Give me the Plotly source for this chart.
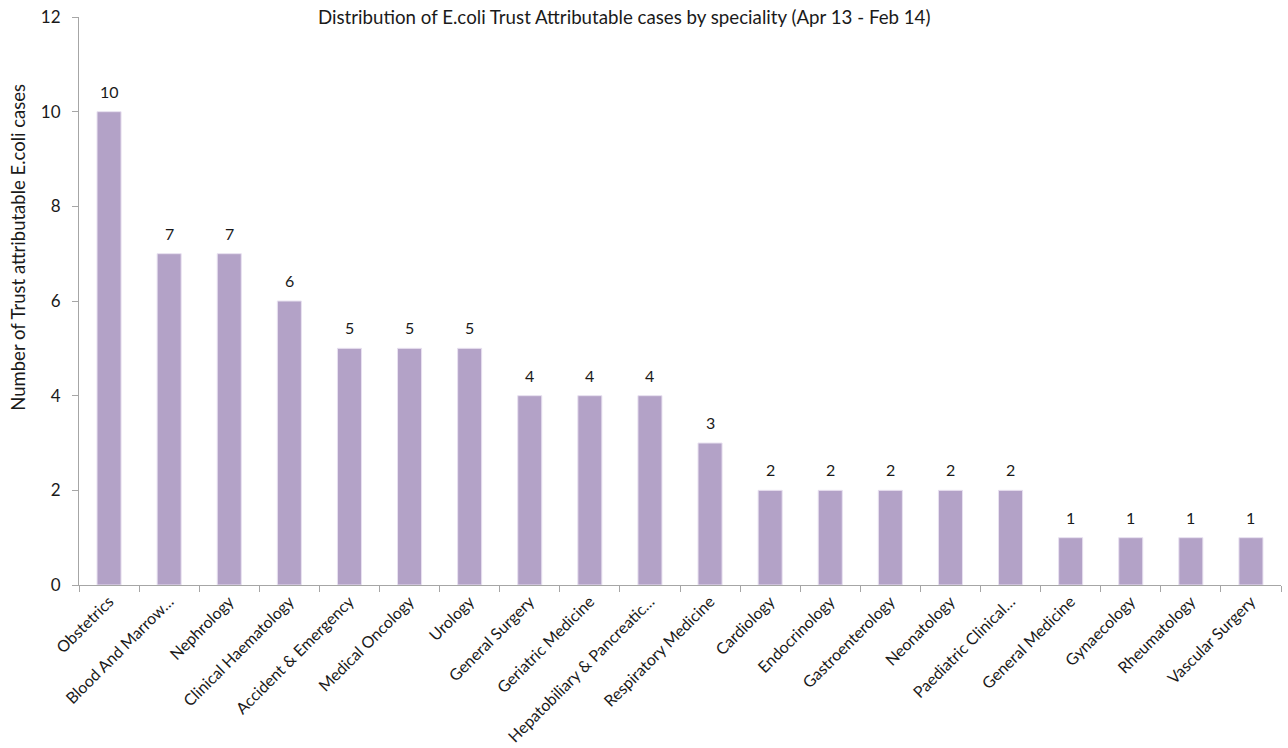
import plotly.graph_objects as go

specialities = [
    "Obstetrics", "Blood And Marrow…", "Nephrology", "Clinical Haematology",
    "Accident & Emergency", "Medical Oncology", "Urology", "General Surgery",
    "Geriatric Medicine", "Hepatobiliary & Pancreatic…", "Respiratory Medicine",
    "Cardiology", "Endocrinology", "Gastroenterology", "Neonatology",
    "Paediatric Clinical…", "General Medicine", "Gynaecology", "Rheumatology",
    "Vascular Surgery",
]
cases = [10, 7, 7, 6, 5, 5, 5, 4, 4, 4, 3, 2, 2, 2, 2, 2, 1, 1, 1, 1]
y_ticks = [0, 2, 4, 6, 8, 10, 12]

FONT = "Lato, Open Sans, sans-serif"
TEXT = "#1a1a1a"
AXIS = "#a6a6a6"

fig = go.Figure(
    go.Bar(
        x=specialities,
        y=cases,
        width=0.4,
        marker=dict(color="#b3a2c7", line=dict(color="#e8e1f0", width=1)),
        hoverinfo="x+y",
    )
)

# value labels above each bar
value_labels = [
    dict(
        x=name, y=v, xref="x", yref="y", text=str(v), showarrow=False,
        yanchor="bottom", yshift=9,
        font=dict(family=FONT, size=16, color=TEXT),
    )
    for name, v in zip(specialities, cases)
]

fig.update_layout(
    width=1288,
    height=748,
    margin=dict(l=79, r=7, t=17, b=163, autoexpand=False),
    paper_bgcolor="white",
    plot_bgcolor="white",
    showlegend=False,
    font=dict(family=FONT, size=15, color=TEXT),
    annotations=value_labels + [
        dict(
            text="Distribution of E.coli Trust Attributable cases by speciality (Apr 13 - Feb 14)",
            xref="paper", yref="paper", x=0.453, y=1.0, yanchor="middle",
            xanchor="center", showarrow=False,
            font=dict(family=FONT, size=18.7, color=TEXT),
        ),
        dict(
            text="Number of Trust attributable E.coli cases",
            xref="paper", yref="paper", x=-0.051, y=0.595,
            xanchor="center", yanchor="middle", textangle=-90, showarrow=False,
            font=dict(family=FONT, size=18.5, color=TEXT),
        ),
    ],
)

fig.update_xaxes(
    type="category",
    automargin=False,
    tickangle=-45,
    showline=True,
    linecolor=AXIS,
    linewidth=1,
    ticks="outside",
    tickson="boundaries",
    ticklen=6,
    tickcolor=AXIS,
    showgrid=False,
    tickfont=dict(family=FONT, size=16, color=TEXT),
)
fig.update_yaxes(
    automargin=False,
    range=[0, 12],
    tickvals=y_ticks,
    showline=True,
    linecolor=AXIS,
    linewidth=1,
    ticks="outside",
    ticklen=6,
    tickcolor=AXIS,
    ticklabelstandoff=8,
    showgrid=False,
    zeroline=False,
    tickfont=dict(family=FONT, size=17, color=TEXT),
)

fig.write_html("out.html")
